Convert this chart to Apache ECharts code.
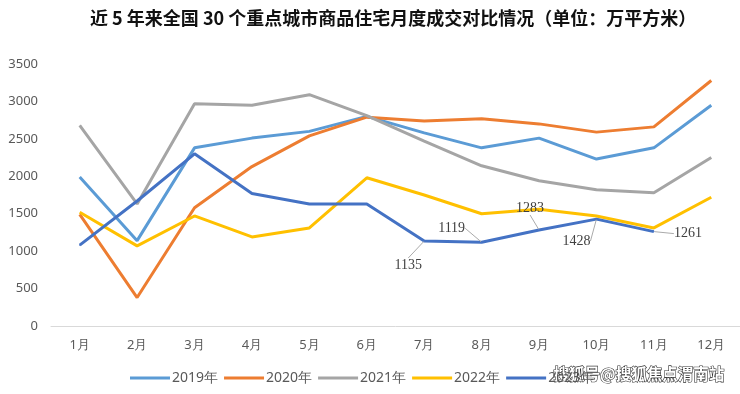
<!DOCTYPE html>
<html><head><meta charset="utf-8">
<script src="https://cdn.jsdelivr.net/npm/echarts@6/dist/echarts.min.js"></script>
<style>html,body{margin:0;padding:0;background:#fff}#c{width:740px;height:394px}</style>
</head><body><div id="c"></div>
<script>
const titleText = '近 5 年来全国 30 个重点城市商品住宅月度成交对比情况（单位：万平方米）';
const months = ['1月','2月','3月','4月','5月','6月','7月','8月','9月','10月','11月','12月'];
const yTicks = [0, 500, 1000, 1500, 2000, 2500, 3000, 3500];
const s2019 = [1990, 1140, 2380, 2510, 2600, 2800, 2580, 2380, 2510, 2230, 2380, 2950];
const s2020 = [1490, 380, 1580, 2130, 2540, 2790, 2740, 2770, 2700, 2590, 2660, 3280];
const s2021 = [2680, 1630, 2970, 2950, 3090, 2810, 2470, 2140, 1940, 1820, 1780, 2250];
const s2022 = [1520, 1070, 1470, 1190, 1310, 1980, 1750, 1500, 1560, 1470, 1310, 1720];
const s2023 = [1080, 1670, 2300, 1770, 1630, 1630, 1135, 1119, 1283, 1428, 1261];
const labelled = {6: [-16, 24], 7: [-30, -14], 8: [-9, -22], 9: [-20, 22], 10: [34, 2]};
const names = ['2019年','2020年','2021年','2022年','2023年'];
const colors = ['#5B9BD5','#ED7D31','#A5A5A5','#FFC000','#4472C4'];
const all = [s2019, s2020, s2021, s2022, s2023];

const chart = echarts.init(document.getElementById('c'));
const series = all.map((d, i) => ({
  name: names[i], type: 'line', data: d,
  symbol: 'circle', symbolSize: 1, showSymbol: i === 4,
  lineStyle: {width: 3, color: colors[i]},
  itemStyle: {color: colors[i]},
  emphasis: {disabled: true},
  z: i === 4 ? 3 : 2
}));
series[4].label = {
  show: true,
  formatter: p => (p.dataIndex in labelled) ? String(p.value) : '',
  fontFamily: 'Liberation Serif', fontSize: 14, color: '#404040', position: 'inside'
};
series[4].labelLayout = p => {
  const o = labelled[p.dataIndex];
  return o ? {dx: o[0], dy: o[1]} : {};
};
series[4].labelLine = {show: true, lineStyle: {color: '#aaa', width: 1}, length2: 0};

chart.setOption({
  animation: false,
  title: {text: titleText, left: 85, top: 4,
    textStyle: {fontFamily: 'Noto Sans CJK SC', fontWeight: 'bold', fontSize: 18, color: '#111'}},
  grid: {left: 51, width: 690, top: 64, bottom: 68, containLabel: false},
  legend: {
    data: names, left: 125, top: 366, icon: 'rect', itemWidth: 40, itemHeight: 3, itemGap: 6,
    textStyle: {fontFamily: 'Noto Sans', fontSize: 14, color: '#595959', padding: [0,0,0,-3]}
  },
  xAxis: {type: 'category', data: months, boundaryGap: true,
    axisLine: {lineStyle: {color: '#d9d9d9'}}, axisTick: {show: false},
    axisLabel: {color: '#595959', fontSize: 13, margin: 13, fontFamily: 'Noto Sans'}},
  yAxis: {type: 'value', min: yTicks[0], max: yTicks[yTicks.length-1], interval: 500,
    splitLine: {show: false}, axisLine: {show: false}, axisTick: {show: false},
    axisLabel: {color: '#595959', fontSize: 13, margin: 13, fontFamily: 'Noto Sans',
      formatter: v => String(v)}},
  series: series,
  graphic: [{type: 'text', left: 553, top: 366,
    style: {text: '搜狐号@搜狐焦点渭南站', fontFamily: 'Noto Sans CJK SC', fontWeight: 'bold', fontSize: 15.5,
      fill: '#fff', stroke: '#333', lineWidth: 1.2}}]
});
</script></body></html>
